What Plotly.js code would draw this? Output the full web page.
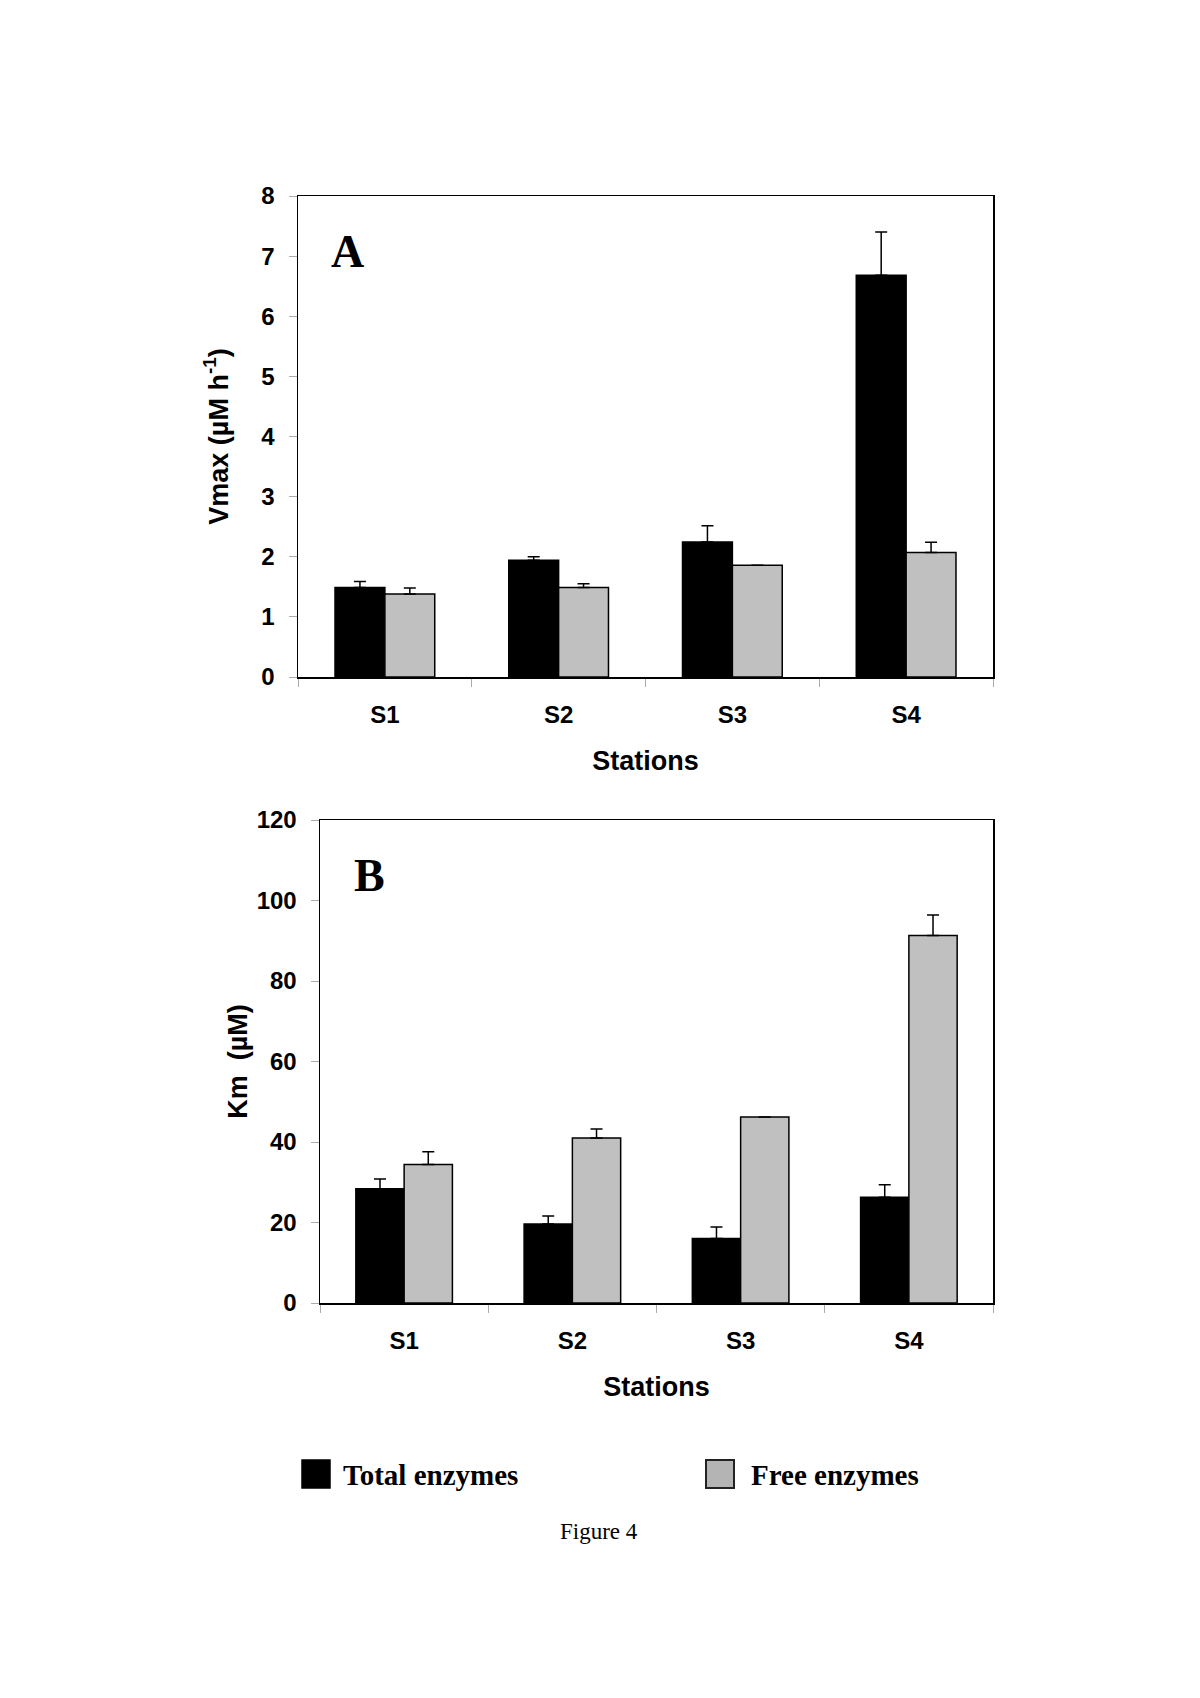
<!DOCTYPE html>
<html>
<head>
<meta charset="utf-8">
<script src="https://cdn.plot.ly/plotly-3.0.1.min.js"></script>
<style>
html,body{margin:0;padding:0;background:#fff;}
#chart{width:1200px;height:1698px;}
</style>
</head>
<body>
<div id="chart"></div>
<script>
// ---- data ----
const stations = ["S1", "S2", "S3", "S4"];
const seriesNames = ["Total enzymes", "Free enzymes"];

const vmaxTotal = [1.49, 1.94, 2.245, 6.68];
const vmaxTotalErr = [0.10, 0.06, 0.27, 0.72];
const vmaxFree = [1.38, 1.49, 1.86, 2.07];
const vmaxFreeErr = [0.10, 0.06, 0.0, 0.17];

const kmTotal = [28.4, 19.6, 16.0, 26.3];
const kmTotalErr = [2.4, 2.0, 2.9, 3.1];
const kmFree = [34.4, 41.0, 46.2, 91.3];
const kmFreeErr = [3.2, 2.2, 0.0, 5.1];

const yTicksA = [0, 1, 2, 3, 4, 5, 6, 7, 8];
const yTicksB = [0, 20, 40, 60, 80, 100, 120];

// ---- styling ----
const W = 1200, H = 1698;
const BLACK = "#000000";
const GRAY = "#c0c0c0";
const sans = "Liberation Sans, Arial, sans-serif";
const serif = "Liberation Serif, Times New Roman, serif";
const zeros = stations.map(() => 0);

function barTrace(vals, errs, color, name, xa, ya) {
  return {
    type: "bar", x: stations, y: vals, name: name,
    xaxis: xa, yaxis: ya, showlegend: false,
    marker: {color: color, line: {color: BLACK, width: 1.5}},
    error_y: {type: "data", symmetric: false, array: errs, arrayminus: zeros,
              color: BLACK, thickness: 1.5, width: 6}
  };
}

const traces = [
  barTrace(vmaxTotal, vmaxTotalErr, BLACK, seriesNames[0], "x", "y"),
  barTrace(vmaxFree, vmaxFreeErr, GRAY, seriesNames[1], "x", "y"),
  barTrace(kmTotal, kmTotalErr, BLACK, seriesNames[0], "x2", "y2"),
  barTrace(kmFree, kmFreeErr, GRAY, seriesNames[1], "x2", "y2")
];

const px = v => v / W;
const py = v => 1 - v / H;

const tickFont = {family: sans, size: 24, color: BLACK, weight: "bold"};
const titleFont = {family: sans, size: 27, color: BLACK, weight: "bold"};

function xAxis(domain, anchor) {
  return {
    domain: domain, anchor: anchor, type: "category",
    showline: true, linecolor: BLACK, linewidth: 1.5, mirror: true,
    ticks: "outside", tickson: "boundaries", ticklen: 8, tickcolor: "#aaaaaa", tickwidth: 1,
    ticklabelstandoff: 16,
    tickfont: tickFont, showgrid: false, zeroline: false, fixedrange: true,
    title: {text: "Stations", font: titleFont, standoff: 24}
  };
}
function yAxis(domain, anchor, range, ticks, title, standoff) {
  return {
    domain: domain, anchor: anchor, range: range,
    tickmode: "array", tickvals: ticks, ticktext: ticks.map(String),
    showline: true, linecolor: BLACK, linewidth: 1.5, mirror: true,
    ticks: "outside", ticklen: 8, tickcolor: "#aaaaaa", tickwidth: 1,
    ticklabelstandoff: 9,
    tickfont: tickFont, showgrid: false, zeroline: false, fixedrange: true,
    title: {text: title, font: titleFont, standoff: standoff}
  };
}

const layout = {
  width: W, height: H,
  margin: {l: 0, r: 0, t: 0, b: 0},
  paper_bgcolor: "#ffffff", plot_bgcolor: "#ffffff",
  barmode: "group", bargap: 0.426, bargroupgap: 0,
  showlegend: false,
  xaxis: xAxis([px(298), px(993)], "y"),
  yaxis: yAxis([py(677), py(196)], "x", [0, 8], yTicksA, "Vmax (µM h<sup>-1</sup>)", 25),
  xaxis2: xAxis([px(320), px(993)], "y2"),
  yaxis2: yAxis([py(1303), py(820)], "x2", [0, 120], yTicksB, "Km  (µM)", 1),
  shapes: [
    {type: "rect", xref: "paper", yref: "paper", x0: px(302), x1: px(330), y0: py(1488), y1: py(1460),
     fillcolor: BLACK, line: {color: BLACK, width: 1.5}},
    {type: "rect", xref: "paper", yref: "paper", x0: px(706), x1: px(734), y0: py(1488), y1: py(1460),
     fillcolor: "#b4b4b4", line: {color: "#222222", width: 2}}
  ],
  annotations: [
    {text: "A", xref: "paper", yref: "paper", x: px(347), y: py(252), xanchor: "center", yanchor: "middle",
     showarrow: false, font: {family: serif, size: 46, color: BLACK, weight: "bold"}},
    {text: "B", xref: "paper", yref: "paper", x: px(369), y: py(875), xanchor: "center", yanchor: "middle",
     showarrow: false, font: {family: serif, size: 46, color: BLACK, weight: "bold"}},
    {text: seriesNames[0], xref: "paper", yref: "paper", x: px(341), y: py(1475), xanchor: "left", yanchor: "middle",
     showarrow: false, font: {family: serif, size: 29, color: BLACK, weight: "bold"}},
    {text: seriesNames[1], xref: "paper", yref: "paper", x: px(749), y: py(1475), xanchor: "left", yanchor: "middle",
     showarrow: false, font: {family: serif, size: 29, color: BLACK, weight: "bold"}},
    {text: "Figure 4", xref: "paper", yref: "paper", x: px(599), y: py(1531), xanchor: "center", yanchor: "middle",
     showarrow: false, font: {family: serif, size: 23, color: BLACK}}
  ]
};

Plotly.newPlot("chart", traces, layout, {staticPlot: true, displayModeBar: false});
</script>
</body>
</html>
